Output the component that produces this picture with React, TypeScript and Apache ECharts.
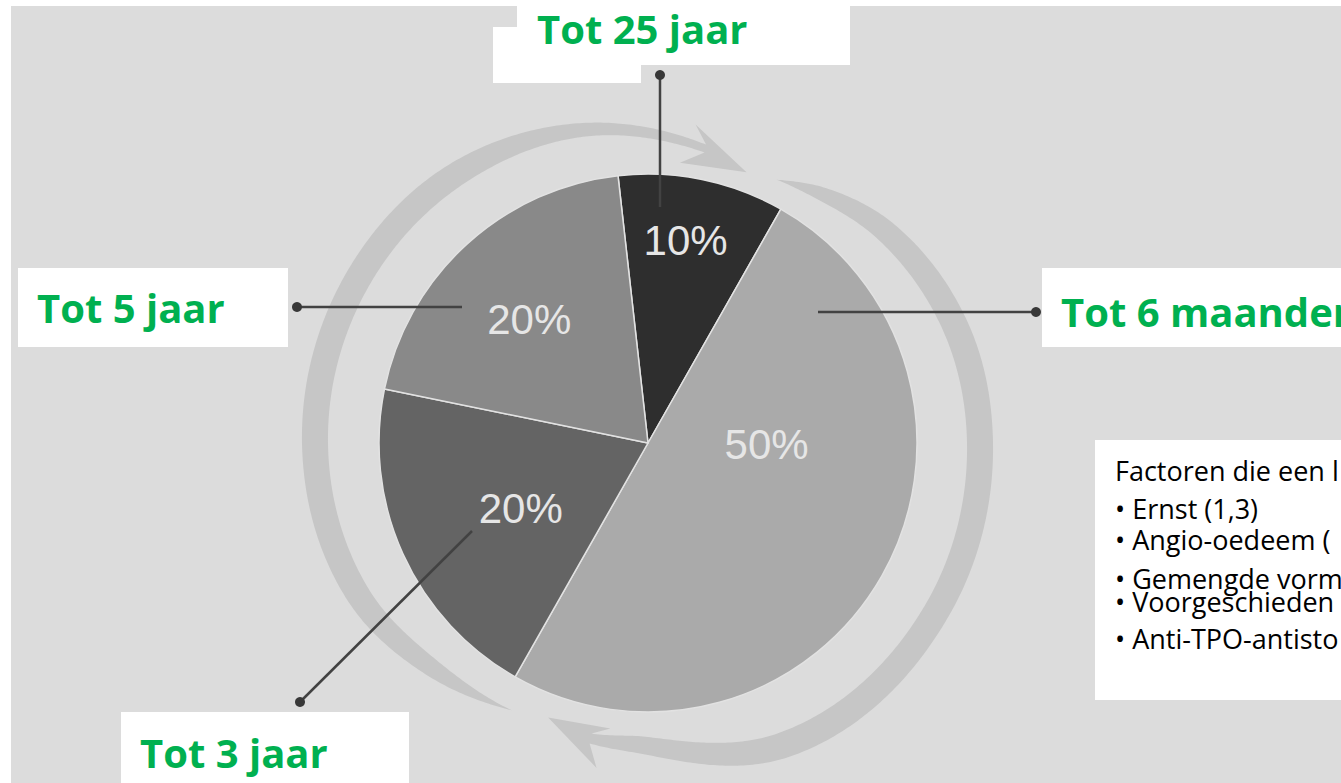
import React, { useEffect, useRef } from "react";
import * as echarts from "echarts";

// ---- data ----
const categories = ["Tot 25 jaar", "Tot 6 maanden", "Tot 3 jaar", "Tot 5 jaar"];
const shares = [10, 50, 20, 20];
const sliceColors = ["#2e2e2e", "#aaaaaa", "#646464", "#898989"];
const factorTitle = "Factoren die een l";
const factorLines = [
  "• Ernst (1,3)",
  "• Angio-oedeem (",
  "• Gemengde vorm",
  "• Voorgeschieden",
  "• Anti-TPO-antisto",
];

// ---- layout (positions / sizes, not data) ----
const W = 1341;
const H = 783;
const CX = 648;
const CY = 443;
const R = 269;
const START_ANGLE = 96.4;
const labelOffsets = [
  [10, -68],
  [-1, -66],
  [-2, 9],
  [-26, -22],
];
const callouts = [
  { boxes: [[517, 0, 333, 65], [493, 27, 148, 56]], tx: 537, ty: 28, line: [[660, 75], [660, 207]] },
  { boxes: [[1042, 268, 299, 79]], tx: 1061, ty: 311, line: [[1036, 312], [818, 312]] },
  { boxes: [[121, 712, 288, 71]], tx: 140, ty: 752, line: [[300, 702], [472, 531]] },
  { boxes: [[18, 268, 270, 79]], tx: 37, ty: 307, line: [[297, 307], [462, 307]] },
];
const factorBox = [1095, 440, 246, 260];
const factorX = 1115;
const factorYs = [470, 508, 539, 578, 601, 638];

// decorative circular arrows: [angle(deg, clockwise from 3 o'clock), mid radius, half thickness]
const arrowA = {
  band: [[117, 300, 0], [134, 312, 9], [152, 327, 12], [180, 333, 13], [215, 333, 13], [235, 330, 12], [258, 320, 7], [281, 300, 4]],
  head: [[278.5, 322], [290, 288], [276.5, 282]],
};
const arrowB = {
  band: [[296, 293, 0], [305, 304, 7], [318, 318, 11], [340, 329, 13], [360, 332, 13], [390, 334, 13], [426, 331, 13], [450, 303, 9], [461, 301, 5]],
  head: [[459, 329], [470, 292], [457.5, 288]],
};

function polar(a: number, r: number): number[] {
  const rad = (a * Math.PI) / 180;
  return [CX + r * Math.cos(rad), CY + r * Math.sin(rad)];
}

// smooth Hermite interpolation of one column of a key list
function spline(keys: number[][], col: number, a: number): number {
  const n = keys.length;
  let i = 0;
  while (i < n - 2 && a > keys[i + 1][0]) i++;
  const x0 = keys[i][0];
  const x1 = keys[i + 1][0];
  const d = x1 - x0;
  const t = Math.min(1, Math.max(0, (a - x0) / d));
  const slope = (k: number) => {
    if (k === 0) return (keys[1][col] - keys[0][col]) / (keys[1][0] - keys[0][0]);
    if (k === n - 1) return (keys[n - 1][col] - keys[n - 2][col]) / (keys[n - 1][0] - keys[n - 2][0]);
    return (keys[k + 1][col] - keys[k - 1][col]) / (keys[k + 1][0] - keys[k - 1][0]);
  };
  const p0 = keys[i][col];
  const p1 = keys[i + 1][col];
  const m0 = slope(i) * d;
  const m1 = slope(i + 1) * d;
  const t2 = t * t;
  const t3 = t2 * t;
  return (2 * t3 - 3 * t2 + 1) * p0 + (t3 - 2 * t2 + t) * m0 + (-2 * t3 + 3 * t2) * p1 + (t3 - t2) * m1;
}

function arrowPolygon(def: { band: number[][]; head: number[][] }): number[][] {
  const band = def.band;
  const a0 = band[0][0];
  const a1 = band[band.length - 1][0];
  const outer: number[][] = [];
  const inner: number[][] = [];
  for (let a = a0; a <= a1 + 1e-6; a += 0.5) {
    const r = spline(band, 1, a);
    const h = Math.max(0, spline(band, 2, a));
    outer.push(polar(a, r + h));
    inner.push(polar(a, r - h));
  }
  const head = def.head.map(([a, r]) => polar(a, r));
  return outer.concat(head).concat(inner.reverse());
}

export default function App() {
  const ref = useRef<HTMLDivElement>(null);
  useEffect(() => {
    if (!ref.current) return;
    const chart = echarts.init(ref.current, undefined, { renderer: "svg" });

    const graphics: any[] = [];
    graphics.push({
      type: "rect",
      z: 0,
      silent: true,
      shape: { x: 11, y: 6, width: W - 11, height: H - 6 },
      style: { fill: "#dcdcdc" },
    });
    [arrowA, arrowB].forEach((def) => {
      graphics.push({
        type: "polygon",
        z: 1,
        silent: true,
        shape: { points: arrowPolygon(def) },
        style: { fill: "#c6c6c6" },
      });
    });

    callouts.forEach((c, i) => {
      graphics.push({
        type: "line",
        z: 100,
        silent: true,
        shape: { x1: c.line[0][0], y1: c.line[0][1], x2: c.line[1][0], y2: c.line[1][1] },
        style: { stroke: "#424242", lineWidth: 2.5 },
      });
      graphics.push({
        type: "circle",
        z: 101,
        silent: true,
        shape: { cx: c.line[0][0], cy: c.line[0][1], r: 5 },
        style: { fill: "#383838" },
      });
      c.boxes.forEach((b) => {
        graphics.push({
          type: "rect",
          z: 102,
          silent: true,
          shape: { x: b[0], y: b[1], width: b[2], height: b[3] },
          style: { fill: "#ffffff" },
        });
      });
      graphics.push({
        type: "text",
        z: 103,
        silent: true,
        x: c.tx,
        y: c.ty,
        style: {
          text: categories[i],
          fill: "#00b050",
          fontFamily: "Open Sans",
          fontWeight: "bold",
          fontSize: 40,
          align: "left",
          verticalAlign: "middle",
          textAlign: "left",
          textVerticalAlign: "middle",
        },
      });
    });

    graphics.push({
      type: "rect",
      z: 102,
      silent: true,
      shape: { x: factorBox[0], y: factorBox[1], width: factorBox[2], height: factorBox[3] },
      style: { fill: "#ffffff" },
    });
    [factorTitle, ...factorLines].forEach((t, i) => {
      graphics.push({
        type: "text",
        z: 103,
        silent: true,
        x: factorX,
        y: factorYs[i],
        style: {
          text: t,
          fill: "#000000",
          fontFamily: "Open Sans",
          fontSize: 27,
          align: "left",
          verticalAlign: "middle",
          textAlign: "left",
          textVerticalAlign: "middle",
        },
      });
    });

    chart.setOption({
      animation: false,
      backgroundColor: "#ffffff",
      series: [
        {
          type: "pie",
          z: 5,
          silent: true,
          center: [CX, CY],
          radius: R,
          startAngle: START_ANGLE,
          clockwise: true,
          emphasis: { disabled: true },
          data: categories.map((name, i) => ({
            name,
            value: shares[i],
            itemStyle: { color: sliceColors[i] },
          })),
          itemStyle: { borderColor: "#e2e2e2", borderWidth: 1.5 },
          label: {
            show: true,
            position: "inside",
            formatter: "{c}%",
            color: "#e6e6e6",
            fontFamily: "Liberation Sans",
            fontSize: 42,
          },
          labelLine: { show: false },
          labelLayout: (p: any) => ({
            dx: labelOffsets[p.dataIndex][0],
            dy: labelOffsets[p.dataIndex][1],
          }),
        },
      ],
      graphic: { elements: graphics },
    });
    return () => chart.dispose();
  }, []);
  return (
    <div
      ref={ref}
      style={{ position: "fixed", left: 0, top: 0, width: W, height: H, overflow: "hidden" }}
    />
  );
}
